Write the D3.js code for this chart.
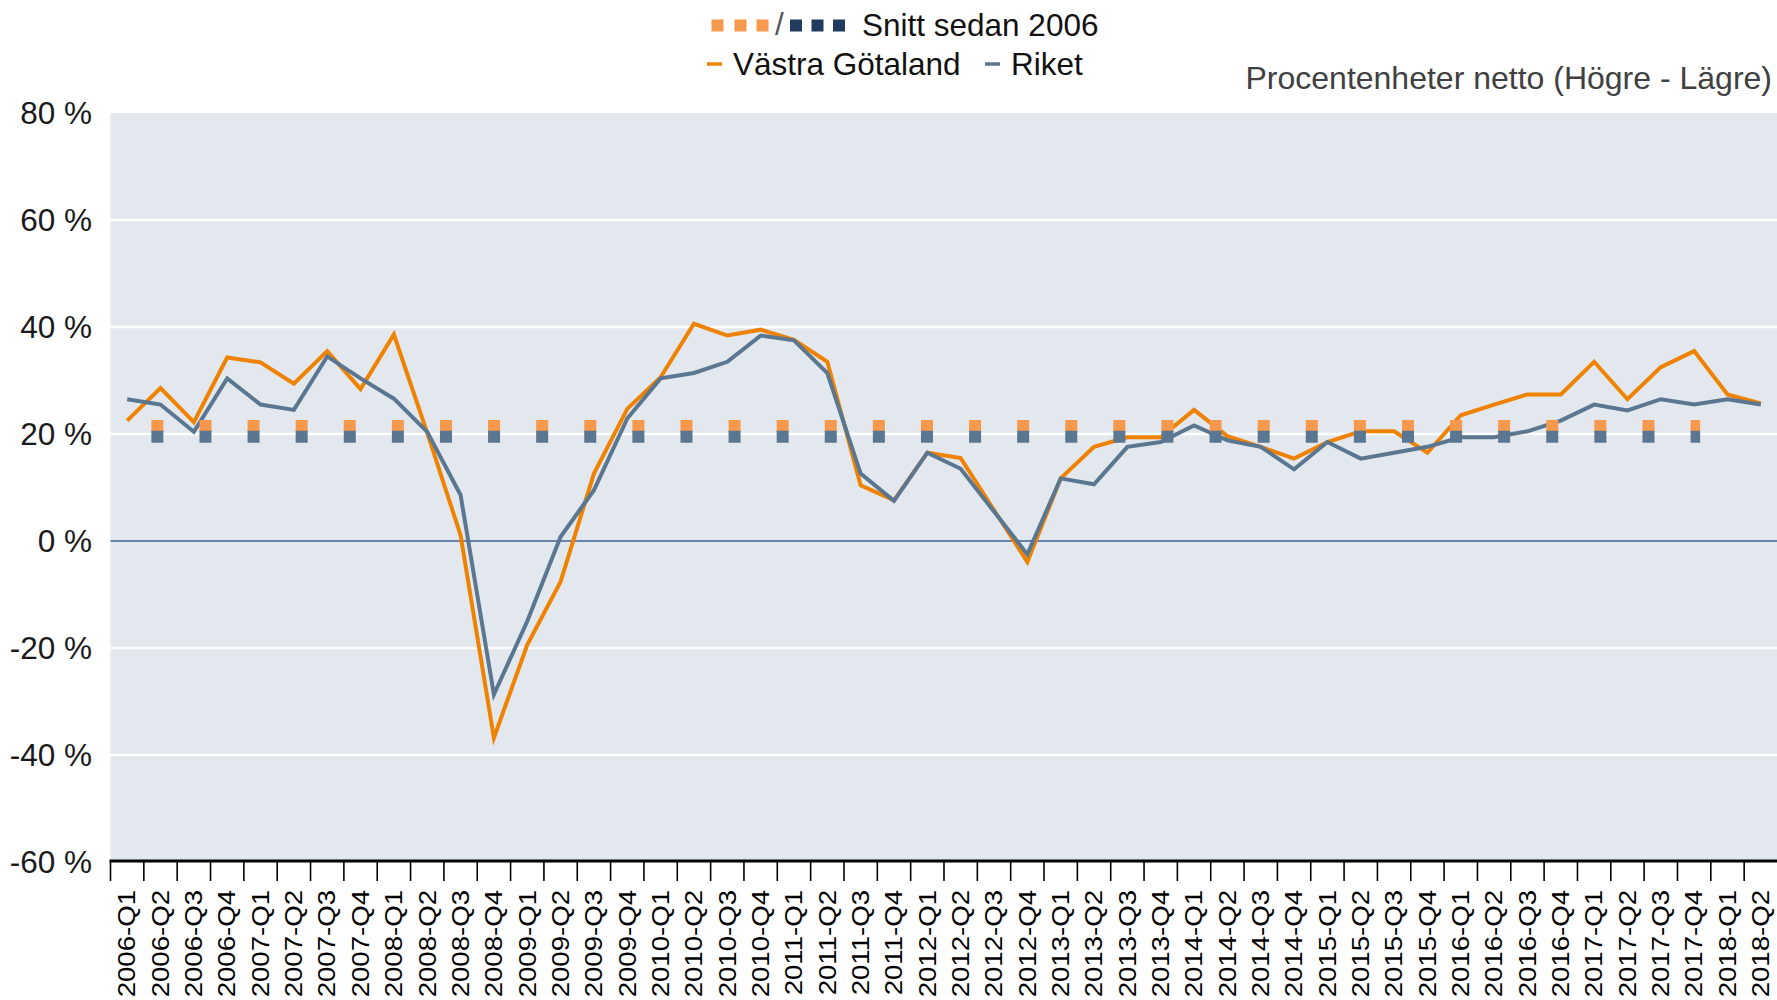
<!DOCTYPE html>
<html>
<head>
<meta charset="utf-8">
<script src="https://cdn.jsdelivr.net/npm/d3@7"></script>
<style>
  body { margin: 0; background: #fff; }
  svg text { font-family: "Liberation Sans", Arial, sans-serif; }
</style>
</head>
<body>
<div id="chart"></div>
<script>
var width = 1777;
var height = 1000;

var categories = [
    "2006-Q1", "2006-Q2", "2006-Q3", "2006-Q4",
    "2007-Q1", "2007-Q2", "2007-Q3", "2007-Q4",
    "2008-Q1", "2008-Q2", "2008-Q3", "2008-Q4",
    "2009-Q1", "2009-Q2", "2009-Q3", "2009-Q4",
    "2010-Q1", "2010-Q2", "2010-Q3", "2010-Q4",
    "2011-Q1", "2011-Q2", "2011-Q3", "2011-Q4",
    "2012-Q1", "2012-Q2", "2012-Q3", "2012-Q4",
    "2013-Q1", "2013-Q2", "2013-Q3", "2013-Q4",
    "2014-Q1", "2014-Q2", "2014-Q3", "2014-Q4",
    "2015-Q1", "2015-Q2", "2015-Q3", "2015-Q4",
    "2016-Q1", "2016-Q2", "2016-Q3", "2016-Q4",
    "2017-Q1", "2017-Q2", "2017-Q3", "2017-Q4",
    "2018-Q1", "2018-Q2"
];

var vastraGotaland = [
    22.5, 28.6, 22.2, 34.3,
    33.4, 29.4, 35.5, 28.4,
    38.6, 20.2, 1.1, -36.8,
    -19.4, -7.6, 12.6, 24.7,
    30.6, 40.6, 38.4, 39.5,
    37.6, 33.5, 10.4, 7.6,
    16.5, 15.5, 5.8, -3.9,
    11.7, 17.6, 19.4, 19.4,
    24.5, 19.6, 17.6, 15.4,
    18.5, 20.5, 20.5, 16.5,
    23.5, 25.5, 27.4, 27.4,
    33.5, 26.5, 32.5, 35.5,
    27.4, 25.7
];

var riket = [
    26.5, 25.5, 20.4, 30.4,
    25.5, 24.5, 34.5, 30.4,
    26.6, 20.4, 8.6, -28.7,
    -15.0, 0.8, 9.5, 22.9,
    30.4, 31.4, 33.5, 38.4,
    37.5, 31.4, 12.6, 7.5,
    16.5, 13.5, 5.5, -2.5,
    11.7, 10.6, 17.6, 18.5,
    21.6, 18.8, 17.6, 13.4,
    18.5, 15.4, 16.5, 17.6,
    19.4, 19.4, 20.5, 22.5,
    25.5, 24.4, 26.5, 25.5,
    26.5, 25.5
];

// averages since 2006, drawn as dotted lines
var averageVastraGotaland = 21.5;
var averageRiket = 19.5;
var averageSpan = ["2006-Q1", "2017-Q4"];

var yTicks = [-60, -40, -20, 0, 20, 40, 60, 80];

var orange = "#ef8200";
var orangeLight = "#f7994c";
var slate = "#5a7690";
var navy = "#1f3b60";

var svg = d3.select("#chart").append("svg")
    .attr("width", width)
    .attr("height", height);

var x = d3.scaleBand().domain(categories).range([110.5, 1777.5]);
var y = d3.scaleLinear().domain([-60, 80]).range([862, 113]);

function xMid(c) {
    return x(c) + x.bandwidth() / 2;
}

// plot background
svg.append("rect")
    .attr("x", x.range()[0]).attr("y", y(80))
    .attr("width", x.range()[1] - x.range()[0])
    .attr("height", y(-60) - y(80))
    .attr("fill", "#e3e8ef");

// grid lines
svg.selectAll("line.grid")
    .data(yTicks.filter(d => d !== 0 && d !== -60 && d !== 80)).enter().append("line")
    .attr("class", "grid")
    .attr("x1", x.range()[0]).attr("x2", x.range()[1])
    .attr("y1", y).attr("y2", y)
    .style("stroke", "#ffffff").style("stroke-width", "2.5px");

// zero line
svg.append("line")
    .attr("x1", x.range()[0]).attr("x2", x.range()[1])
    .attr("y1", y(0)).attr("y2", y(0))
    .style("stroke", "#6783aa").style("stroke-width", "2px");

// y labels
svg.selectAll("text.ylab")
    .data(yTicks).enter().append("text")
    .attr("class", "ylab")
    .attr("x", 92)
    .attr("y", y)
    .attr("dy", "0.36em")
    .attr("text-anchor", "end")
    .attr("font-size", "31.5px")
    .attr("fill", "#1a1a1a")
    .text(d => d + " %");

// lines
var lineGenerator = d3.line()
    .x((d, i) => xMid(categories[i]))
    .y(d => y(d));

svg.append("path")
    .attr("d", lineGenerator(vastraGotaland))
    .style("fill", "none").style("stroke", orange).style("stroke-width", "4px")
    .style("stroke-linejoin", "miter");

svg.append("path")
    .attr("d", lineGenerator(riket))
    .style("fill", "none").style("stroke", slate).style("stroke-width", "4px")
    .style("stroke-linejoin", "miter");

// average markers (square dots)
function averageLine(value, colour) {
    svg.append("line")
        .attr("x1", xMid(averageSpan[0]))
        .attr("x2", xMid(averageSpan[1]) + 6)
        .attr("y1", y(value)).attr("y2", y(value))
        .style("stroke", colour).style("stroke-width", "12px")
        .style("stroke-dasharray", "12 36.1")
        .style("stroke-dashoffset", "23.9");
}
averageLine(averageVastraGotaland, orangeLight);
averageLine(averageRiket, slate);

// x axis
var axisY = y(-60) - 1;
svg.append("line")
    .attr("x1", x.range()[0] - 1).attr("x2", x.range()[1])
    .attr("y1", axisY).attr("y2", axisY)
    .style("stroke", "#000").style("stroke-width", "3px");

svg.selectAll("line.tick")
    .data(categories).enter().append("line")
    .attr("class", "tick")
    .attr("x1", d => x(d)).attr("x2", d => x(d))
    .attr("y1", axisY).attr("y2", axisY + 20)
    .style("stroke", "#000").style("stroke-width", "1.6px");

svg.selectAll("text.xlab")
    .data(categories).enter().append("text")
    .attr("class", "xlab")
    .attr("transform", d => "translate(" + xMid(d) + "," + 890 + ") rotate(-90) scale(1.2,1)")
    .attr("dy", "0.36em")
    .attr("text-anchor", "end")
    .attr("font-size", "23px")
    .attr("fill", "#000")
    .text(d => d);

// legend
var legend = svg.append("g");
var squaresOrange = [717.5, 740.5, 762.5];
var squaresNavy = [796, 817.5, 839];
legend.selectAll("rect.lo")
    .data(squaresOrange).enter().append("rect")
    .attr("x", d => d - 6).attr("y", 19.5).attr("width", 12).attr("height", 12)
    .attr("fill", orangeLight);
legend.append("text")
    .attr("x", 775).attr("y", 35)
    .attr("font-size", "31.5px").attr("fill", "#555")
    .text("/");
legend.selectAll("rect.ln")
    .data(squaresNavy).enter().append("rect")
    .attr("x", d => d - 6).attr("y", 19.5).attr("width", 12).attr("height", 12)
    .attr("fill", navy);
legend.append("text")
    .attr("x", 862).attr("y", 35.5)
    .attr("font-size", "31.5px").attr("fill", "#111")
    .text("Snitt sedan 2006");

legend.append("line")
    .attr("x1", 707).attr("x2", 722).attr("y1", 64).attr("y2", 64)
    .style("stroke", orange).style("stroke-width", "3.5px");
legend.append("text")
    .attr("x", 733).attr("y", 75)
    .attr("font-size", "31.5px").attr("fill", "#111")
    .text("Västra Götaland");
legend.append("line")
    .attr("x1", 985).attr("x2", 1000).attr("y1", 64).attr("y2", 64)
    .style("stroke", slate).style("stroke-width", "3.5px");
legend.append("text")
    .attr("x", 1011).attr("y", 75)
    .attr("font-size", "31.5px").attr("fill", "#111")
    .text("Riket");

svg.append("text")
    .attr("x", 1772).attr("y", 89)
    .attr("text-anchor", "end")
    .attr("font-size", "32px").attr("fill", "#404040")
    .text("Procentenheter netto (Högre - Lägre)");
</script>
</body>
</html>
